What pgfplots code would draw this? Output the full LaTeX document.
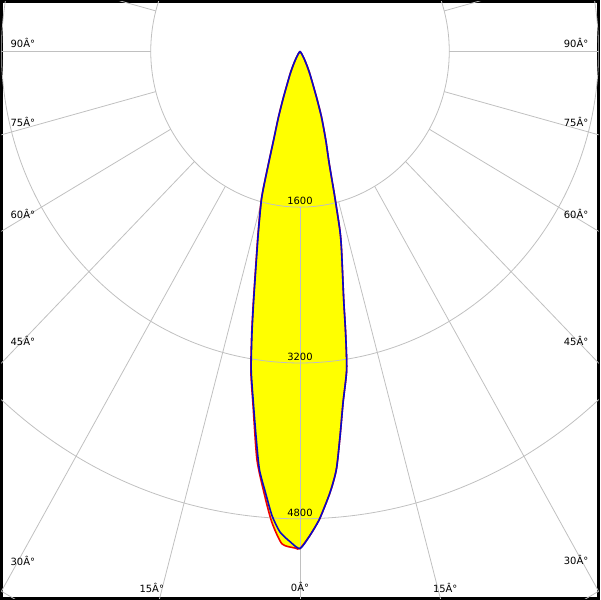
\documentclass[border=0pt]{standalone}
\usepackage{pgfplots}
\pgfplotsset{compat=1.18}
\usepackage{pgfplotstable}
\usepackage{fontspec}
\setmainfont{DejaVu Sans}
\definecolor{gridc}{RGB}{192,192,192}
\definecolor{cblue}{RGB}{10,10,200}
\definecolor{cred}{RGB}{240,0,0}
\definecolor{cyel}{RGB}{255,255,0}

% C90-C270 plane (blue): angle a (deg, negative = left), intensity I (cd)
\pgfplotstableread{
a I
-90 0
-45 0
-35 30
-30 90
-27 160
-24.4 258
-20.5 509
-18.8 719
-17.2 962
-16.3 1203
-15.3 1553
-13.6 1892
-12.7 2095
-11.0 2602
-10.1 2937
-9.1 3310
-7.9 3640
-6.8 3981
-5.8 4312
-4.7 4540
-3.6 4777
-2.5 4939
-1.2 5037
0 5105
1.2 4975
2.5 4806
4.1 4536
5.2 4308
6.2 3976
7.3 3635
8.7 3307
9.6 2932
10.4 2597
12.3 2091
13.1 1888
14.0 1544
15.2 1196
16.8 960
18.8 719
20.5 509
24.4 258
27 160
30 90
35 30
45 0
90 0
}\bluetab

% C0-C180 plane (red)
\pgfplotstableread{
a I
-90 0
-45 0
-35 30
-30 90
-27 160
-24.4 260
-20.5 512
-18.8 723
-17.2 968
-16.3 1210
-15.3 1562
-13.6 1905
-12.7 2110
-11.0 2620
-10.1 2955
-9.1 3330
-7.9 3665
-6.3 4213
-4.9 4542
-3.6 4840
-2.2 5060
-0.6 5100
0 5105
1.2 4975
2.5 4806
4.1 4536
5.2 4308
6.2 3976
7.3 3635
8.7 3307
9.6 2932
10.4 2597
12.3 2091
13.1 1888
14.0 1544
15.2 1196
16.8 960
18.8 719
20.5 509
24.4 258
27 160
30 90
35 30
45 0
90 0
}\redtab

\begin{document}
\begin{tikzpicture}
\begin{axis}[
  width=600pt, height=600pt, scale only axis,
  xmin=-3200, xmax=3200, ymin=-5618, ymax=511,
  axis line style={black, line width=3pt},
  ticks=none,
  clip=true,
]
% yellow fills
\addplot[draw=none, fill=cyel, smooth, tension=0.4] table[x expr={\thisrow{I}*sin(\thisrow{a})}, y expr={-\thisrow{I}*cos(\thisrow{a})}] {\redtab} -- cycle;
\addplot[draw=none, fill=cyel, smooth, tension=0.4] table[x expr={\thisrow{I}*sin(\thisrow{a})}, y expr={-\thisrow{I}*cos(\thisrow{a})}] {\bluetab} -- cycle;

% grid
\draw[gridc, line width=0.8pt] (axis cs:0,0) ellipse [x radius=1600, y radius=1600];
\draw[gridc, line width=0.8pt] (axis cs:0,0) ellipse [x radius=3200, y radius=3200];
\draw[gridc, line width=0.8pt] (axis cs:0,0) ellipse [x radius=4800, y radius=4800];
\draw[gridc, line width=0.8pt] (axis cs:0,0) ellipse [x radius=6400, y radius=6400];
\pgfplotsinvokeforeach{0,...,23}{
  \draw[gridc, line width=0.8pt] (axis cs:{1600*sin(15*#1)},{-1600*cos(15*#1)}) -- (axis cs:{12000*sin(15*#1)},{-12000*cos(15*#1)});
}

% curves
\addplot[cred, line width=1.6pt, smooth, tension=0.4] table[x expr={\thisrow{I}*sin(\thisrow{a})}, y expr={-\thisrow{I}*cos(\thisrow{a})}] {\redtab};
\addplot[cblue, line width=1.6pt, smooth, tension=0.4] table[x expr={\thisrow{I}*sin(\thisrow{a})}, y expr={-\thisrow{I}*cos(\thisrow{a})}] {\bluetab};

% labels
\tikzset{lbl/.style={inner sep=0pt, font=\fontsize{10}{12}\selectfont}}
\node[lbl, anchor=west] at (axis cs:-3104,82) {90Â°};
\node[lbl, anchor=west] at (axis cs:-3104,-725) {75Â°};
\node[lbl, anchor=west] at (axis cs:-3104,-1675) {60Â°};
\node[lbl, anchor=west] at (axis cs:-3104,-2972) {45Â°};
\node[lbl, anchor=west] at (axis cs:-3104,-5230) {30Â°};
\node[lbl, anchor=east] at (axis cs:3093,82) {90Â°};
\node[lbl, anchor=east] at (axis cs:3093,-725) {75Â°};
\node[lbl, anchor=east] at (axis cs:3093,-1675) {60Â°};
\node[lbl, anchor=east] at (axis cs:3093,-2972) {45Â°};
\node[lbl, anchor=east] at (axis cs:3093,-5220) {30Â°};
\node[lbl] at (axis cs:-1589,-5506) {15Â°};
\node[lbl] at (axis cs:0,-5495) {0Â°};
\node[lbl] at (axis cs:1557,-5506) {15Â°};
\node[lbl] at (axis cs:0,-1532) {1600};
\node[lbl] at (axis cs:0,-3133) {3200};
\node[lbl] at (axis cs:0,-4740) {4800};
\end{axis}
\end{tikzpicture}
\end{document}
